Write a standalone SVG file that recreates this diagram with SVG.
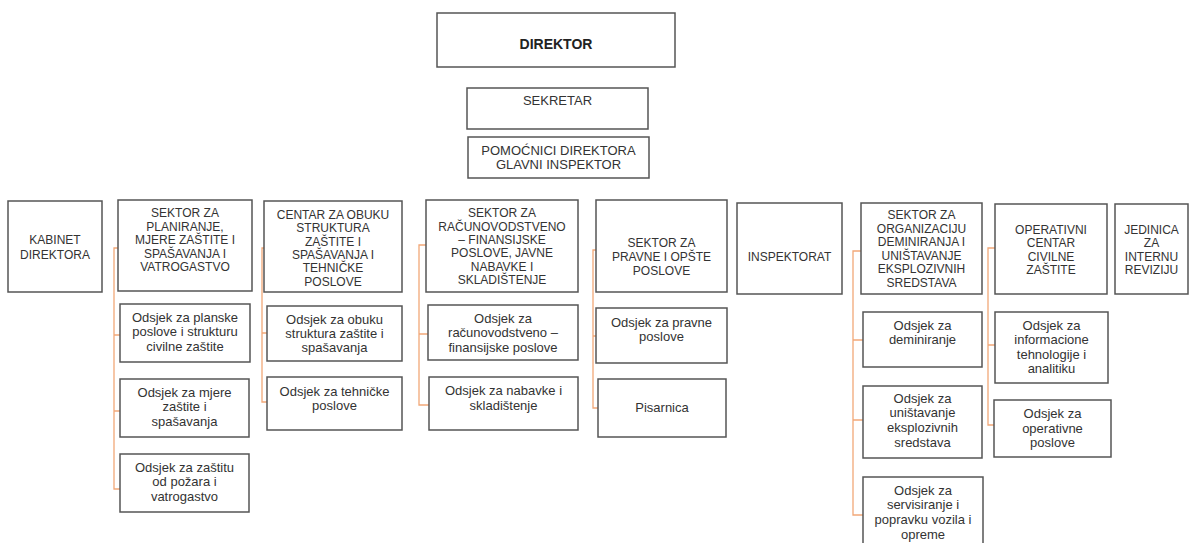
<svg xmlns="http://www.w3.org/2000/svg" width="1189" height="543" viewBox="0 0 1189 543">
<style>
rect{fill:#fff;stroke:#555;stroke-width:1.5}
text{font-family:"Liberation Sans",Arial,sans-serif;fill:#333;text-anchor:middle}
.c{font-size:12px}
.l{font-size:13px}
.h{font-size:13px}
.b{font-size:14px;font-weight:bold;fill:#222}
.con path{fill:none;stroke:#f2a878;stroke-width:1.3}
</style>
<rect x="0" y="0" width="1189" height="543" style="stroke:none"/>
<g class="con">
<path d="M118,248H114V489H120M114,335H120M114,411H120"/>
<path d="M264,248H262V402H267M262,333H267"/>
<path d="M426,245H419V405H429M419,334H428"/>
<path d="M596,250H593V408H598M593,336H596"/>
<path d="M861,251H853V515H863M853,340H863M853,420H863"/>
<path d="M995,248H988V425H994M988,345H995"/>
</g>
<g id="direktor"><rect x="437" y="13" width="238" height="54"/><text class="b" x="556" y="49">DIREKTOR</text></g>
<g id="sekretar"><rect x="467" y="88" width="181" height="41"/><text class="h" x="557.5" y="105">SEKRETAR</text></g>
<g id="pomocnici"><rect x="468" y="137" width="181" height="41"/><text class="h" x="558.5" y="155">POMOĆNICI DIREKTORA</text><text class="h" x="558.5" y="169">GLAVNI INSPEKTOR</text></g>
<g id="kabinet"><rect x="8" y="201" width="94" height="91"/><text class="c" x="55" y="244">KABINET</text><text class="c" x="55" y="259">DIREKTORA</text></g>
<g id="sektor-planiranje"><rect x="118" y="200" width="134" height="91"/><text class="c" x="185"><tspan x="185" y="217">SEKTOR ZA</tspan><tspan x="185" y="231">PLANIRANJE,</tspan><tspan x="185" y="244">MJERE ZAŠTITE I</tspan><tspan x="185" y="258">SPAŠAVANJA I</tspan><tspan x="185" y="271">VATROGASTVO</tspan></text></g>
<g id="odsjek-planske"><rect x="120" y="304" width="130" height="58"/><text class="l"><tspan x="185" y="321.5">Odsjek za planske</tspan><tspan x="185" y="336">poslove i strukturu</tspan><tspan x="185" y="350.5">civilne zaštite</tspan></text></g>
<g id="odsjek-mjere"><rect x="120" y="379" width="129" height="58"/><text class="l"><tspan x="184.5" y="396.5">Odsjek za mjere</tspan><tspan x="184.5" y="411">zaštite i</tspan><tspan x="184.5" y="425.5">spašavanja</tspan></text></g>
<g id="odsjek-pozar"><rect x="120" y="454" width="129" height="58"/><text class="l"><tspan x="184.5" y="471.5">Odsjek za zaštitu</tspan><tspan x="184.5" y="486">od požara i</tspan><tspan x="184.5" y="500.5">vatrogastvo</tspan></text></g>
<g id="centar-obuka"><rect x="264" y="201" width="138" height="91"/><text class="c"><tspan x="333" y="219">CENTAR ZA OBUKU</tspan><tspan x="333" y="232">STRUKTURA</tspan><tspan x="333" y="246">ZAŠTITE I</tspan><tspan x="333" y="259">SPAŠAVANJA I</tspan><tspan x="333" y="272">TEHNIČKE</tspan><tspan x="333" y="286">POSLOVE</tspan></text></g>
<g id="odsjek-obuka"><rect x="267" y="306" width="135" height="55"/><text class="l"><tspan x="334.5" y="323.5">Odsjek za obuku</tspan><tspan x="334.5" y="337.5">struktura zaštite i</tspan><tspan x="334.5" y="352">spašavanja</tspan></text></g>
<g id="odsjek-tehnicke"><rect x="267" y="377" width="135" height="53"/><text class="l"><tspan x="334.5" y="396">Odsjek za tehničke</tspan><tspan x="334.5" y="410">poslove</tspan></text></g>
<g id="sektor-racunovodstvo"><rect x="426" y="200" width="152" height="92"/><text class="c"><tspan x="502" y="217">SEKTOR ZA</tspan><tspan x="502" y="231">RAČUNOVODSTVENO</tspan><tspan x="502" y="244">– FINANSIJSKE</tspan><tspan x="502" y="257">POSLOVE, JAVNE</tspan><tspan x="502" y="271">NABAVKE I</tspan><tspan x="502" y="284">SKLADIŠTENJE</tspan></text></g>
<g id="odsjek-racunovodstvo"><rect x="428" y="305" width="150" height="55"/><text class="l"><tspan x="503" y="322.5">Odsjek za</tspan><tspan x="503" y="337">računovodstveno –</tspan><tspan x="503" y="351.5">finansijske poslove</tspan></text></g>
<g id="odsjek-nabavke"><rect x="429" y="377" width="149" height="53"/><text class="l"><tspan x="503.5" y="394.5">Odsjek za nabavke i</tspan><tspan x="503.5" y="409.5">skladištenje</tspan></text></g>
<g id="sektor-pravne"><rect x="596" y="200" width="131" height="92"/><text class="c"><tspan x="661.5" y="247">SEKTOR ZA</tspan><tspan x="661.5" y="261">PRAVNE I OPŠTE</tspan><tspan x="661.5" y="275">POSLOVE</tspan></text></g>
<g id="odsjek-pravne"><rect x="596" y="308" width="131" height="55"/><text class="l"><tspan x="661.5" y="326.5">Odsjek za pravne</tspan><tspan x="661.5" y="340.5">poslove</tspan></text></g>
<g id="pisarnica"><rect x="598" y="379" width="128" height="58"/><text class="l" x="662" y="411.5">Pisarnica</text></g>
<g id="inspektorat"><rect x="737" y="203" width="105" height="91"/><text class="c" x="789.5" y="261">INSPEKTORAT</text></g>
<g id="sektor-deminiranje"><rect x="861" y="203" width="121" height="91"/><text class="c"><tspan x="921.5" y="219">SEKTOR ZA</tspan><tspan x="921.5" y="233">ORGANIZACIJU</tspan><tspan x="921.5" y="246">DEMINIRANJA I</tspan><tspan x="921.5" y="260">UNIŠTAVANJE</tspan><tspan x="921.5" y="273">EKSPLOZIVNIH</tspan><tspan x="921.5" y="287">SREDSTAVA</tspan></text></g>
<g id="odsjek-deminiranje"><rect x="863" y="312" width="119" height="55"/><text class="l"><tspan x="922.5" y="329.5">Odsjek za</tspan><tspan x="922.5" y="343.5">deminiranje</tspan></text></g>
<g id="odsjek-unistavanje"><rect x="863" y="386" width="119" height="72"/><text class="l"><tspan x="922.5" y="402.5">Odsjek za</tspan><tspan x="922.5" y="417">uništavanje</tspan><tspan x="922.5" y="431.5">eksplozivnih</tspan><tspan x="922.5" y="447">sredstava</tspan></text></g>
<g id="odsjek-servisiranje"><rect x="863" y="477" width="120" height="72"/><text class="l"><tspan x="923" y="494.5">Odsjek za</tspan><tspan x="923" y="509">servisiranje i</tspan><tspan x="923" y="523.5">popravku vozila i</tspan><tspan x="923" y="538.5">opreme</tspan></text></g>
<g id="operativni-centar"><rect x="995" y="204" width="112" height="90"/><text class="c"><tspan x="1051" y="234">OPERATIVNI</tspan><tspan x="1051" y="247">CENTAR</tspan><tspan x="1051" y="261">CIVILNE</tspan><tspan x="1051" y="274">ZAŠTITE</tspan></text></g>
<g id="odsjek-informacione"><rect x="995" y="312" width="113" height="71"/><text class="l"><tspan x="1051.5" y="329.5">Odsjek za</tspan><tspan x="1051.5" y="344">informacione</tspan><tspan x="1051.5" y="358.5">tehnologije i</tspan><tspan x="1051.5" y="373">analitiku</tspan></text></g>
<g id="odsjek-operativne"><rect x="994" y="400" width="117" height="57"/><text class="l"><tspan x="1052.5" y="418">Odsjek za</tspan><tspan x="1052.5" y="432.5">operativne</tspan><tspan x="1052.5" y="447">poslove</tspan></text></g>
<g id="jedinica"><rect x="1115" y="204" width="73" height="90"/><text class="c"><tspan x="1151.5" y="234">JEDINICA</tspan><tspan x="1151.5" y="247">ZA</tspan><tspan x="1151.5" y="261">INTERNU</tspan><tspan x="1151.5" y="274">REVIZIJU</tspan></text></g>
</svg>
